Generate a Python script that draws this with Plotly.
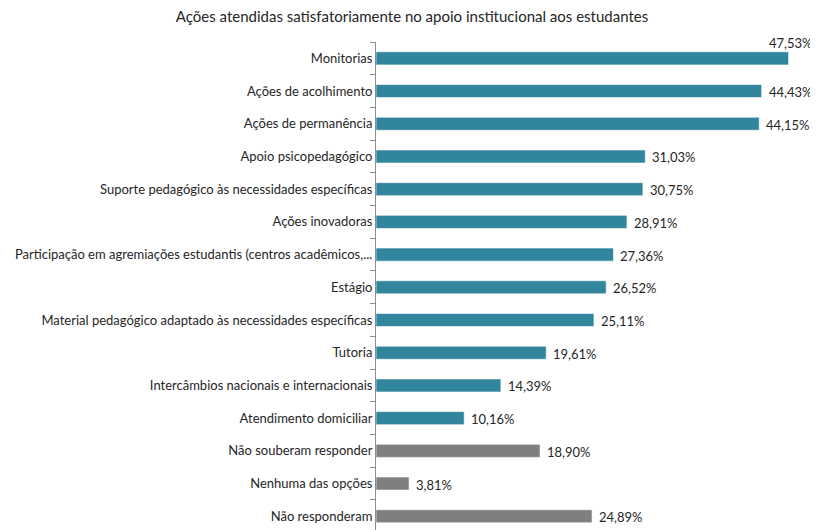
import plotly.graph_objects as go

categories = [
    "Monitorias",
    "Ações de acolhimento",
    "Ações de permanência",
    "Apoio psicopedagógico",
    "Suporte pedagógico às necessidades específicas",
    "Ações inovadoras",
    "Participação em agremiações estudantis (centros acadêmicos,...",
    "Estágio",
    "Material pedagógico adaptado às necessidades específicas",
    "Tutoria",
    "Intercâmbios nacionais e internacionais",
    "Atendimento domiciliar",
    "Não souberam responder",
    "Nenhuma das opções",
    "Não responderam",
]
values = [47.53, 44.43, 44.15, 31.03, 30.75, 28.91, 27.36, 26.52, 25.11,
          19.61, 14.39, 10.16, 18.90, 3.81, 24.89]
groups = ["acao"] * 12 + ["outro"] * 3

TEAL = "#31859C"
GRAY = "#7F7F7F"
colors = [TEAL if g == "acao" else GRAY for g in groups]

FONT = "Lato"
TXT = "#262626"

# page body has an 8px margin: figure is drawn from (8, 8)
W, H = 810, 522

fig = go.Figure()
fig.add_trace(go.Bar(
    x=values, y=categories, orientation="h",
    marker=dict(color=colors, line=dict(color="rgba(255,255,255,0.6)", width=1)),
    width=0.40, hoverinfo="skip",
))

for i, (c, v) in enumerate(zip(categories, values)):
    label = f"{v:.2f}%".replace(".", ",")
    if i == 0:
        fig.add_annotation(x=v, y=c, text=label, showarrow=False, xanchor="right",
                           xshift=26, yshift=15, font=dict(family=FONT, size=13, color=TXT))
    else:
        fig.add_annotation(x=v, y=c, text=label, showarrow=False, xanchor="left",
                           xshift=5, yshift=-1, font=dict(family=FONT, size=13, color=TXT))

fig.update_layout(
    width=W, height=H,
    margin=dict(l=368, r=7.5, t=33.6, b=0),
    paper_bgcolor="white", plot_bgcolor="white",
    showlegend=False,
    title=dict(text="Ações atendidas satisfatoriamente no apoio institucional aos estudantes",
               x=404 / W, xanchor="center", y=1 - 9 / H, yanchor="middle",
               font=dict(family=FONT, size=15, color=TXT)),
    font=dict(family=FONT, size=13, color=TXT),
)
fig.update_xaxes(range=[0, 50], visible=False, showgrid=False, zeroline=False)
fig.update_yaxes(
    type="category", range=[14.42, -0.5],
    showline=True, linecolor="#8C8C8C", linewidth=1,
    ticks="outside", tickson="boundaries", ticklen=5, tickcolor="#8C8C8C",
    showgrid=False, zeroline=False, automargin=False,
    tickfont=dict(family=FONT, size=13, color=TXT),
)

fig.write_html("out.html")
